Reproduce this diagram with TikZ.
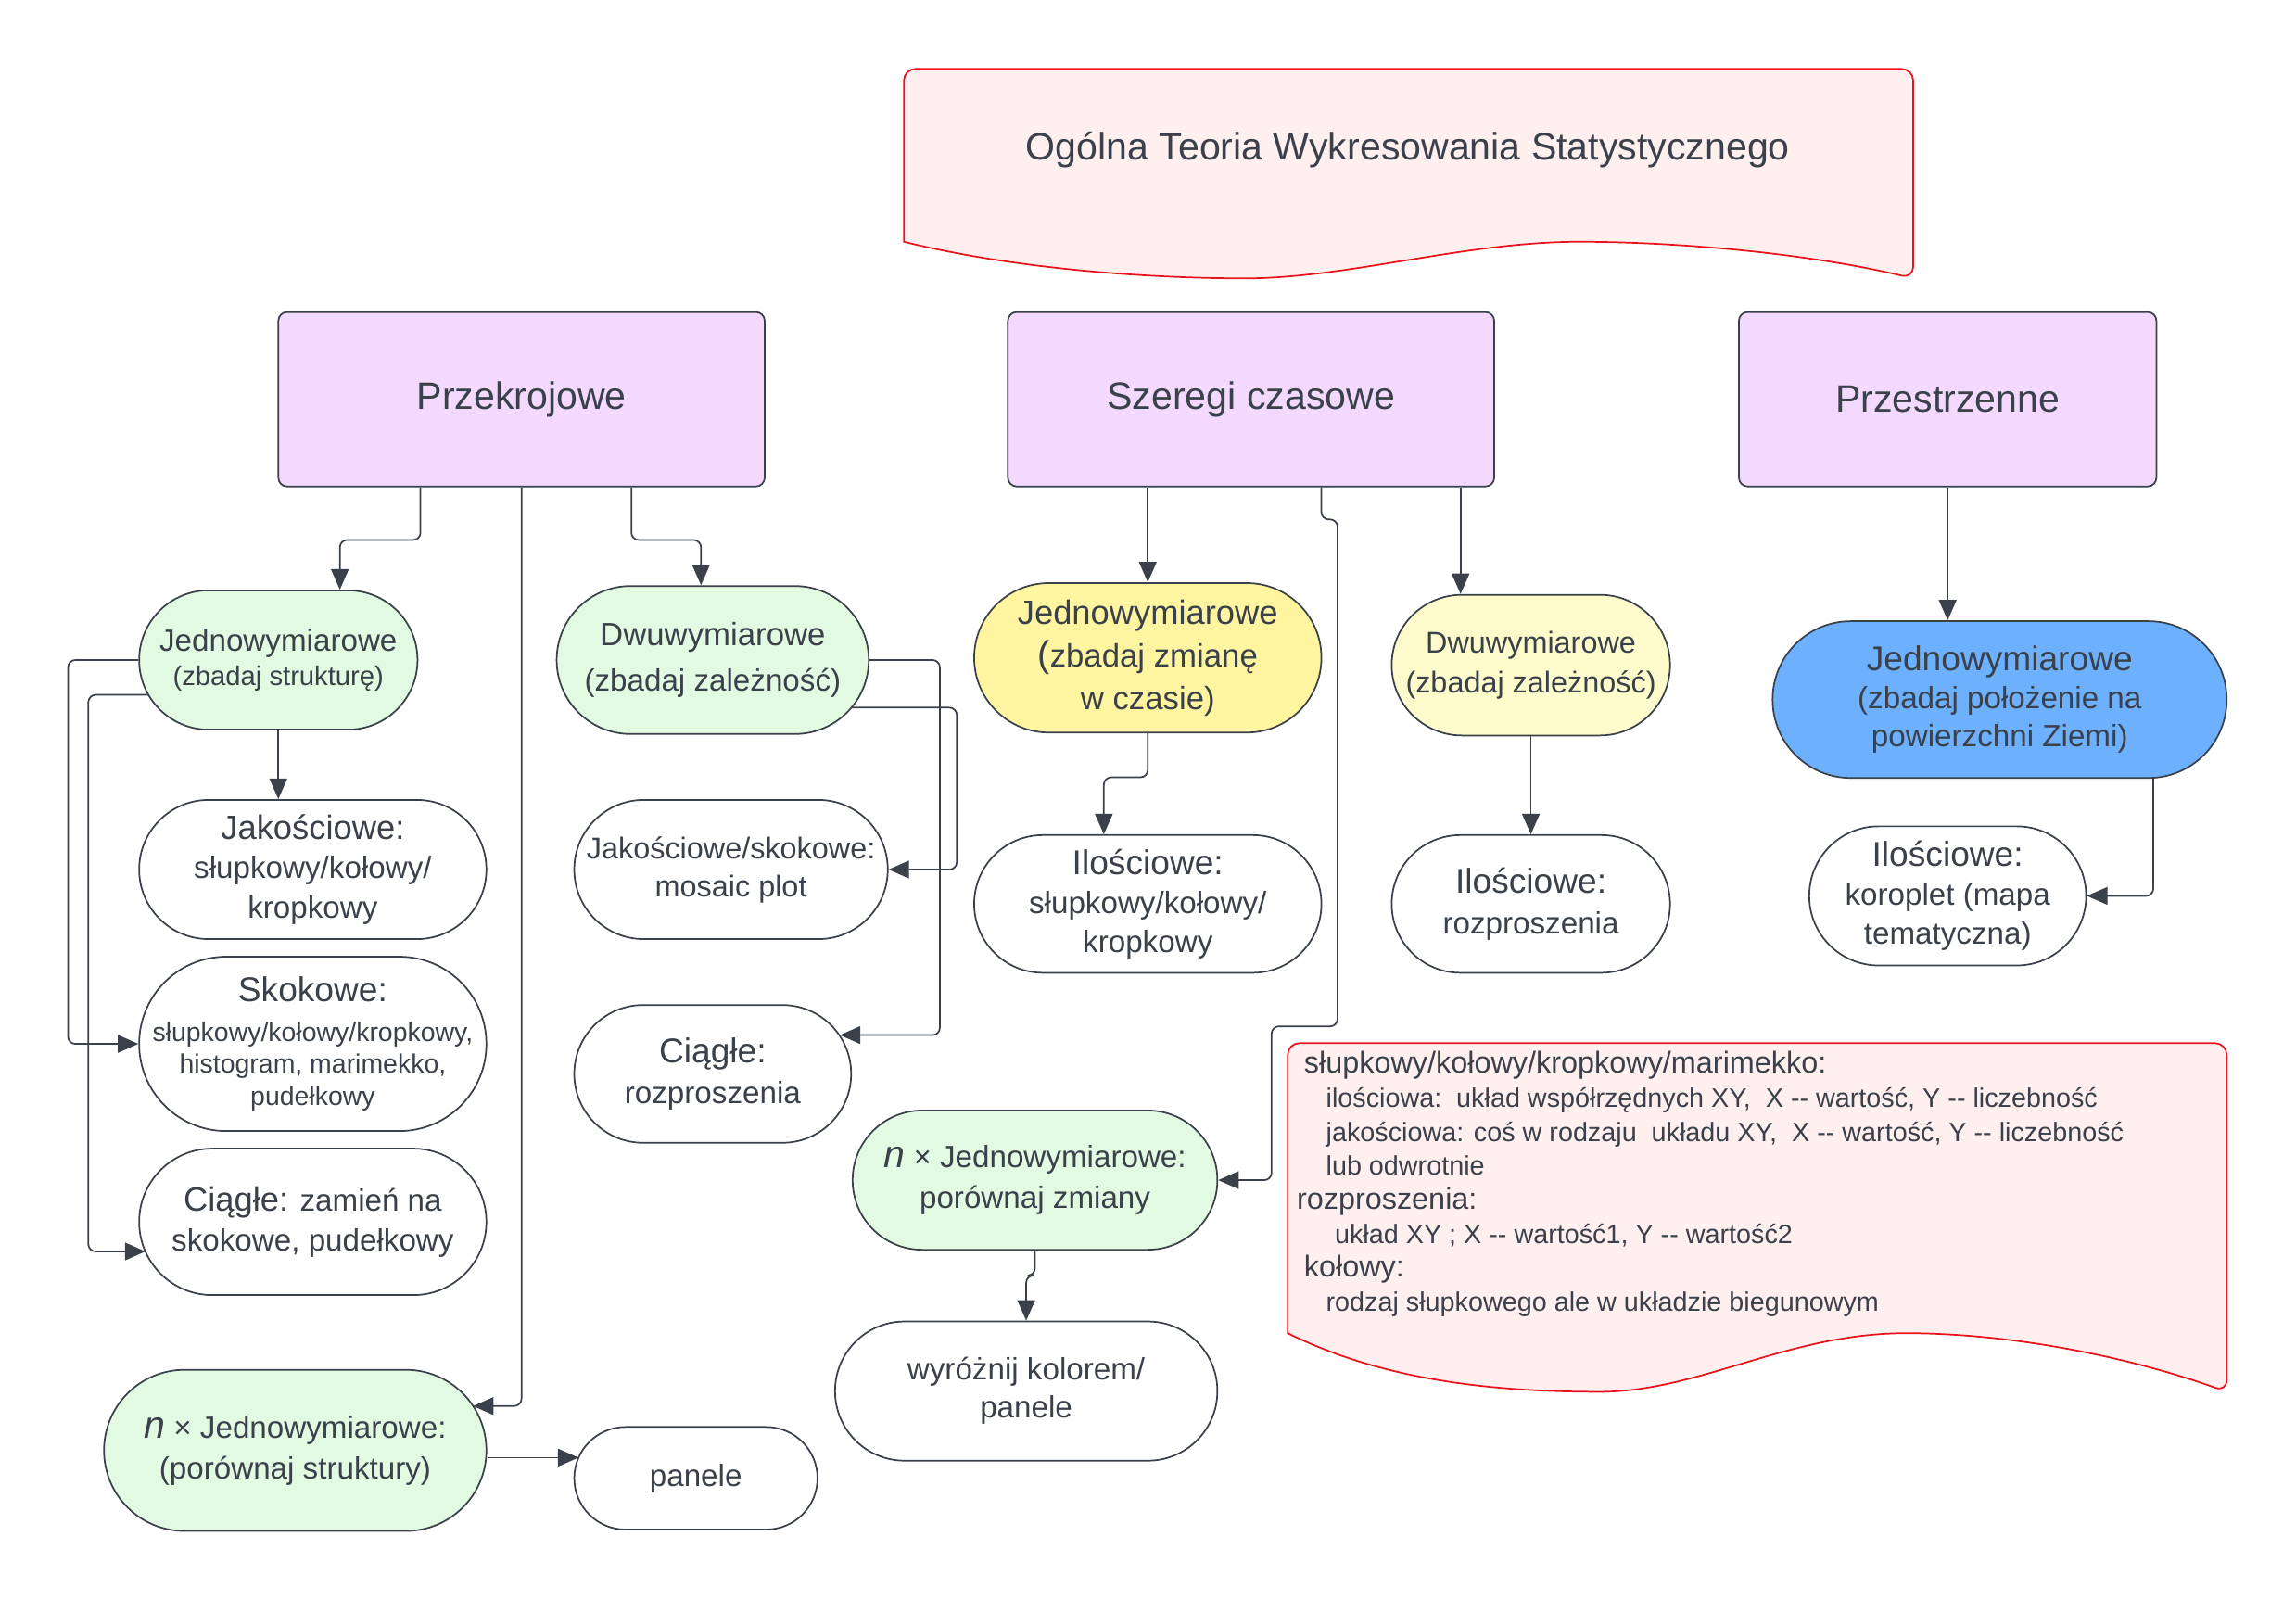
\documentclass[tikz,border=0pt]{standalone}
\usepackage{fontspec}
\setmainfont{Liberation Sans}
\usetikzlibrary{arrows.meta,calc}
\definecolor{ink}{HTML}{3A414A}
\definecolor{lila}{HTML}{F2D9FD}
\definecolor{mint}{HTML}{E2FAE2}
\definecolor{lemon}{HTML}{FFF5A1}
\definecolor{cream}{HTML}{FDFBCB}
\definecolor{sky}{HTML}{6CB0FE}
\definecolor{blush}{HTML}{FFEFEF}
\definecolor{alarm}{HTML}{E8141B}
\newcommand{\fs}[2]{\fontsize{#1}{#2}\selectfont}
\newcommand{\dd}{\mbox{-}\mbox{-}}

\begin{document}
\begin{tikzpicture}[x=1pt,y=1pt,
  every node/.style={text=ink},
  head/.style={draw=ink,line width=1.1pt,fill=lila,rounded corners=6pt,minimum width=#1,minimum height=119pt,inner sep=0pt,font=\fs{26}{30}},
  term/.style 2 args={draw=ink,line width=1.1pt,fill=white,minimum width=#1,minimum height=#2,rounded corners={0.499*#2},inner sep=0pt,align=center},
  conn/.style={draw=ink,line width=1.1pt,rounded corners=5pt,-{Triangle[length=14pt,width=12pt]}},
  doc/.style={draw=alarm,line width=1.1pt,fill=blush}]
\useasboundingbox (0,0) rectangle (1567.3,-1091.5);

\draw[doc] (617,-165) {[rounded corners=8pt] -- (617,-47) -- (1306,-47) -- (1306,-190)} .. controls (1230,-172) and (1140,-165) .. (1078,-165) .. controls (1000,-165) and (920,-190) .. (850,-190) .. controls (780,-190) and (690,-183) .. (617,-165) -- cycle;
\node[font=\fs{26}{30}] (title) at (961,-102) {Ogólna Teoria Wykresowania Statystycznego};

\node[head=332pt] (przek) at (356,-272.5) {Przekrojowe};
\node[head=332pt] (szer) at (854,-272.5) {Szeregi czasowe};
\node[head=285pt] (przes) at (1329.5,-272.5) {Przestrzenne};

\node[term={190pt}{95pt},fill=mint,font=\fs{21}{24}] (jedA) at (190,-450.5) {Jednowymiarowe\\{\fs{18.5}{24}(zbadaj strukturę)}};
\node[term={213pt}{101pt},fill=mint,font=\fs{22}{31}] (dwuA) at (486.5,-450.5) {Dwuwymiarowe\\{\fs{21}{31}(zbadaj zależność)}};
\node[term={237pt}{102pt},fill=lemon,font=\fs{22}{29}] (jedB) at (783.5,-449) {{\fs{23}{29}Jednowymiarowe}\\{\fs{25}{29}(}zbadaj zmianę\\w czasie)};
\node[term={190pt}{96pt},fill=cream,font=\fs{20.5}{27}] (dwuB) at (1045,-454) {Dwuwymiarowe\\(zbadaj zależność)};
\node[term={310pt}{107pt},fill=sky,font=\fs{21}{26}] (jedC) at (1365,-477.5) {{\fs{23.5}{26}Jednowymiarowe}\\(zbadaj położenie na\\powierzchni Ziemi)};

\node[term={237pt}{95pt},font=\fs{21}{27}] (jak) at (213.5,-593.5) {{\fs{23}{27}Jakościowe:}\\słupkowy/kołowy/\\kropkowy};
\node[term={237pt}{119pt},font=\fs{18}{22}] (skok) at (213.5,-712.5) {{\fs{23.5}{22}Skokowe:}\\[5pt]słupkowy/kołowy/kropkowy,\\histogram, marimekko,\\pudełkowy};
\node[term={237pt}{100pt},font=\fs{21}{27}] (ciagA) at (213.5,-834) {{\fs{23}{27}Ciągłe:} zamień na\\skokowe, pudełkowy};
\node[term={261pt}{110pt},fill=mint,font=\fs{21}{28}] (nJedA) at (201.5,-990) {{\fs{26}{28}\itshape n} × Jednowymiarowe:\\(porównaj struktury)};
\node[term={166pt}{70pt},font=\fs{21}{24}] (panA) at (475,-1009) {panele};
\node[term={214pt}{95pt},font=\fs{20.5}{26}] (jakSk) at (499,-593.5) {Jakościowe/skokowe:\\mosaic plot};
\node[term={189pt}{94pt},font=\fs{21}{28}] (ciagB) at (486.5,-733) {{\fs{23.5}{28}Ciągłe:}\\rozproszenia};
\node[term={237pt}{94pt},font=\fs{21}{26.5}] (ilA) at (783.5,-617) {{\fs{23.5}{26.5}Ilościowe:}\\słupkowy/kołowy/\\kropkowy};
\node[term={190pt}{94pt},font=\fs{21}{28}] (ilB) at (1045,-617) {{\fs{23.5}{28}Ilościowe:}\\rozproszenia};
\node[term={189pt}{95pt},font=\fs{21}{26.5}] (ilC) at (1329.5,-611.5) {{\fs{23.5}{26.5}Ilościowe:}\\koroplet (mapa\\tematyczna)};
\node[term={249pt}{95pt},fill=mint,font=\fs{21}{28}] (nJedB) at (706.5,-805.5) {{\fs{26}{28}\itshape n} × Jednowymiarowe:\\porównaj zmiany};
\node[term={261pt}{95pt},font=\fs{21}{26}] (wyr) at (700.5,-949.5) {wyróżnij kolorem/\\panele};

\draw[doc] (879,-910) {[rounded corners=8pt] -- (879,-712) -- (1520,-712) -- (1520,-950)} .. controls (1450,-925) and (1370,-910) .. (1301,-910) .. controls (1220,-910) and (1160,-950) .. (1092,-950) .. controls (1010,-950) and (940,-940) .. (879,-910) -- cycle;
\node[anchor=north west,align=left,inner sep=0pt,font=\fs{18.2}{23.2}] (uwagi) at (885,-717.5) {\hspace*{5pt}{\fs{20.5}{23.2}słupkowy/kołowy/kropkowy/marimekko:}\\
\hspace*{20pt}ilościowa:\ \ układ współrzędnych XY,\ \ X \dd{} wartość, Y \dd{} liczebność\\
\hspace*{20pt}jakościowa: coś w rodzaju\ \ układu XY,\ \ X \dd{} wartość, Y \dd{} liczebność\\
\hspace*{20pt}lub odwrotnie\\
{\fs{20.5}{23.2}rozproszenia:}\\
\hspace*{26pt}układ XY ; X \dd{} wartość1, Y \dd{} wartość2\\
\hspace*{5pt}{\fs{20.5}{23.2}kołowy:}\\
\hspace*{20pt}rodzaj słupkowego ale w układzie biegunowym};

\coordinate (panIn) at ($(panA.center)+(-80.1,14.1)$);

\draw[conn] ([xshift=-69pt]przek.south) -- ++(0,-36) -| ([xshift=42pt]jedA.north);
\draw[conn] (przek.south) |- ($(nJedA.center)+(121.4,30.3)$);
\draw[conn] ([xshift=75pt]przek.south) -- ++(0,-36) -| ([xshift=-8pt]dwuA.north);
\draw[conn] (jedA.south) -- (jedA.south |- jak.north);
\draw[conn] (jedA.west) -- ++(-48,0) |- (skok.west);
\draw[conn] ($(jedA.center)+(-88.7,-23.8)$) -- ++(-41,0) |- ($(ciagA.center)+(-114.2,-20.2)$);
\draw[conn] (dwuA.east) -- ++(48,0) |- ($(ciagB.center)+(86.8,26.5)$);
\draw[conn] ($(dwuA.center)+(94.6,-32.5)$) -- ++(72,0) |- (jakSk.east);
\draw[conn] (panIn -| nJedA.east) -- (panIn);

\draw[conn] (szer.south -| jedB.north) -- (jedB.north);
\draw[conn] ([xshift=48pt]szer.south) -- ++(0,-22) -- ++(11,0) -- ++(0,-346) -- ++(-45,0) |- (nJedB.east);
\draw[conn] ([xshift=143pt]szer.south) -- ([xshift=143pt]szer.south |- dwuB.north);
\draw[conn] (jedB.south) -- ++(0,-30) -| ([xshift=-30pt]ilA.north);
\draw[conn] (dwuB.south) -- (ilB.north);
\draw[conn] (nJedB.south) -- ++(0,-17) -| (wyr.north);

\draw[conn] (przes.south) -- (przes.south |- jedC.north);
\draw[conn] ($(jedC.center)+(104.9,-53.4)$) |- (ilC.east);
\end{tikzpicture}
\end{document}
